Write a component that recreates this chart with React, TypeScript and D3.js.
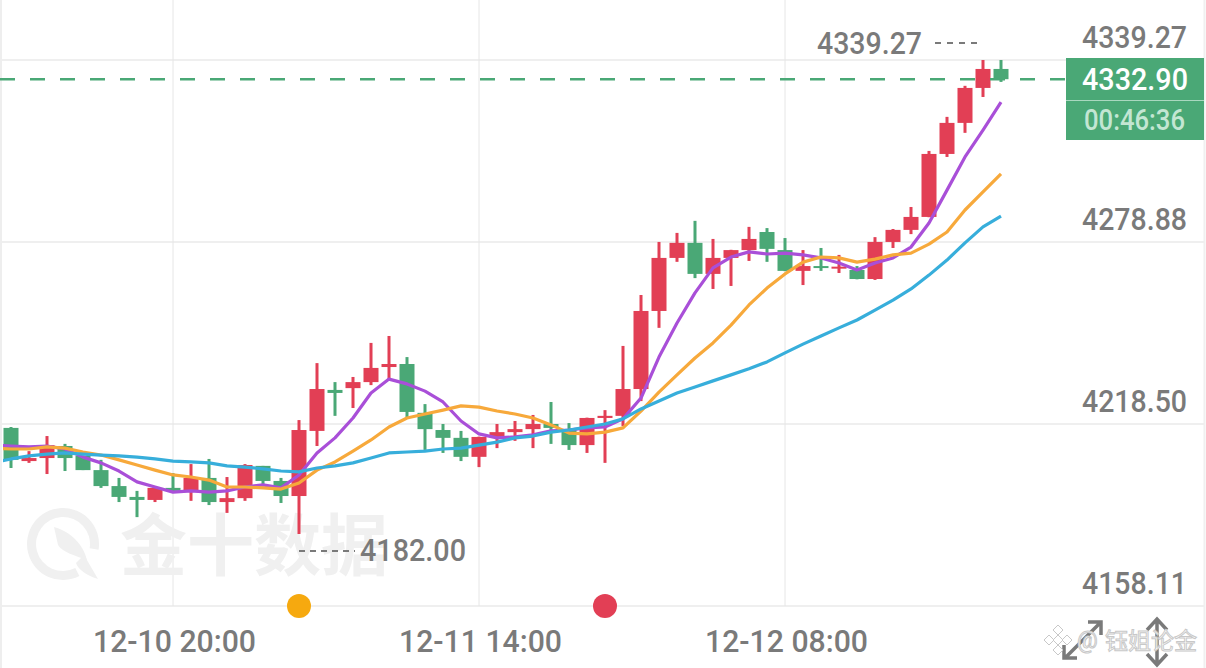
import React from "react";
import * as d3 from "d3";

const WIDTH = 1206;
const HEIGHT = 668;

const RED = "#e23f55";
const GREEN = "#4aa876";
const GREY = "#7a7a7a";

const open = [4217.2,4206.2,4207.2,4211.2,4207.9,4203.2,4197.9,4194.3,4193.3,4197.3,4195.9,4200.6,4192.6,4193.9,4204.6,4199.6,4194.6,4216.2,4229.8,4230.4,4232.4,4237.4,4238.4,4222.2,4216.5,4213.9,4207.6,4214.2,4215.8,4216.8,4218.5,4216.5,4211.5,4220.5,4221.2,4230.1,4256.0,4273.6,4278.6,4268.3,4273.6,4276.2,4282.2,4276.2,4269.3,4270.9,4270.5,4269.6,4266.6,4278.9,4282.9,4287.2,4308.1,4318.4,4330.0,4336.3];
const high = [4217.5,4209.5,4214.5,4211.9,4208.0,4206.6,4200.6,4196.3,4197.4,4202.2,4205.2,4206.9,4200.9,4205.2,4204.6,4200.6,4219.8,4238.7,4232.4,4234.1,4245.4,4247.7,4240.7,4225.1,4218.5,4216.2,4214.3,4218.5,4219.5,4221.5,4225.8,4218.8,4220.6,4223.1,4244.4,4261.3,4278.9,4281.9,4285.9,4279.9,4276.3,4283.9,4283.5,4280.2,4276.2,4276.9,4274.6,4270.9,4280.5,4283.2,4290.5,4309.1,4320.4,4330.7,4339.27,4339.27];
const low = [4203.9,4205.6,4201.9,4202.9,4203.2,4197.3,4192.6,4187.6,4192.6,4196.2,4193.0,4191.6,4189.0,4193.0,4198.3,4192.3,4182.0,4211.2,4221.2,4223.8,4231.4,4233.4,4220.8,4209.9,4208.9,4206.2,4204.2,4210.5,4212.9,4210.5,4211.9,4209.9,4208.9,4205.6,4217.8,4226.1,4250.4,4272.3,4266.9,4263.3,4264.3,4272.6,4272.3,4269.2,4264.6,4269.3,4268.6,4266.5,4266.3,4276.9,4281.5,4287.1,4307.1,4315.1,4327.0,4332.0];
const close = [4206.6,4207.2,4211.5,4207.2,4203.2,4197.9,4194.3,4193.3,4197.3,4196.3,4200.6,4192.6,4193.9,4204.9,4199.6,4194.6,4216.5,4230.1,4228.8,4232.4,4237.1,4238.4,4222.5,4216.8,4213.9,4207.6,4214.2,4215.8,4216.8,4218.5,4217.2,4211.5,4220.5,4221.2,4230.1,4256.0,4273.6,4278.6,4268.3,4273.6,4276.2,4279.9,4276.6,4269.3,4270.9,4270.6,4270.7,4266.6,4278.9,4282.9,4287.2,4308.1,4318.4,4330.0,4336.3,4332.9];

// moving averages, first value belongs to the candle just off the left edge
const ma5 = [4211.5,4211.2,4210.9,4211.2,4210.2,4207.5,4205.6,4202.9,4199.3,4197.6,4195.9,4196.3,4195.9,4196.3,4197.6,4198.3,4197.3,4201.6,4208.9,4213.9,4220.5,4228.8,4233.4,4231.8,4229.4,4225.8,4219.5,4215.2,4213.9,4214.2,4214.9,4216.2,4216.5,4217.2,4217.5,4220.2,4227.1,4240.7,4252.0,4262.0,4270.3,4273.9,4275.6,4274.9,4275.2,4274.6,4273.6,4271.9,4269.6,4271.9,4273.6,4277.2,4285.2,4296.1,4307.1,4316.0,4325.3];
const ma10 = [4210.5,4210.2,4210.2,4210.9,4210.5,4209.2,4208.2,4206.6,4204.9,4203.2,4201.6,4200.9,4199.9,4197.6,4197.6,4197.3,4196.9,4198.9,4203.2,4205.9,4209.5,4213.2,4217.5,4220.5,4221.8,4223.1,4224.5,4224.1,4222.8,4221.8,4220.5,4218.2,4215.5,4215.2,4215.8,4217.2,4222.8,4229.1,4234.8,4240.4,4245.4,4251.3,4258.0,4263.6,4268.3,4272.2,4273.9,4273.6,4272.2,4273.2,4274.6,4275.2,4278.2,4282.2,4289.5,4295.5,4301.5];
const ma20 = [4205.6,4206.9,4207.9,4208.5,4208.9,4208.5,4208.2,4207.9,4207.5,4206.9,4206.2,4205.9,4205.6,4204.6,4204.2,4203.6,4202.9,4202.6,4203.9,4204.6,4205.6,4207.2,4208.9,4209.2,4209.5,4210.2,4210.5,4211.5,4212.5,4213.9,4214.5,4215.8,4216.5,4217.5,4218.5,4220.2,4223.5,4226.1,4228.8,4230.8,4232.8,4234.8,4236.8,4239.1,4242.1,4245.0,4247.7,4250.4,4253.0,4256.3,4259.6,4263.3,4267.9,4272.9,4278.6,4283.9,4287.5];

const yTicks = [4339.27, 4278.88, 4218.5, 4158.11];
const xTickIndex = [9, 26, 43];
const xTickLabels = ["12-10 20:00", "12-11 14:00", "12-12 08:00"];
const eventIndex = [16, 33];
const eventColors = ["#f6a90f", RED];
const lastPrice = 4332.9;
const countdown = "00:46:36";
const highPrice = 4339.27;
const lowPrice = 4182.0;
const lowIndex = 16;

const x = d3.scaleLinear().domain([0, 55]).range([11, 1001]);
const y = d3.scaleLinear().domain([4158.11, 4339.27]).range([606, 60]);

const maLine = d3
  .line<number>()
  .x((_, i) => x(i - 1))
  .y((d) => y(d));

const maSeries = [
  { values: ma5, color: "#a94fd8" },
  { values: ma10, color: "#f7a93b" },
  { values: ma20, color: "#37aedb" },
];

const logoRing = d3.arc()({
  innerRadius: 27,
  outerRadius: 36,
  startAngle: Math.PI * 0.85,
  endAngle: Math.PI * 2.55,
}) as string;

// condensed look of the original font, squeezed to its measured width
const Label = ({ x: lx, y: ly, w, size = 32, fill = GREY, anchor = "start", children }: any) => (
  <text
    x={lx}
    y={ly}
    fontFamily="Roboto"
    fontWeight={500}
    fontSize={size}
    fill={fill}
    textAnchor={anchor}
    textLength={w}
    lengthAdjust="spacingAndGlyphs"
  >
    {children}
  </text>
);

export default function App() {
  return (
    <svg
      width={WIDTH}
      height={HEIGHT}
      viewBox={`0 0 ${WIDTH} ${HEIGHT}`}
      style={{ position: "absolute", left: 0, top: 0, display: "block", background: "#fff" }}
    >
      <defs>
        <clipPath id="plot">
          <rect x={3} y={0} width={1060} height={606} />
        </clipPath>
      </defs>

      {/* frame and grid */}
      <line x1={1} x2={1} y1={0} y2={HEIGHT} stroke="#eeeeee" strokeWidth={2} />
      <line x1={1204.5} x2={1204.5} y1={0} y2={HEIGHT} stroke="#f0f0f0" strokeWidth={2} />
      {yTicks.map((t) => (
        <line key={t} x1={2} x2={1204} y1={y(t)} y2={y(t)} stroke="#efefef" strokeWidth={2} />
      ))}
      {xTickIndex.map((i) => (
        <line key={i} x1={x(i)} x2={x(i)} y1={0} y2={606} stroke="#e6e6e6" strokeWidth={1} />
      ))}

      {/* watermark */}
      <g fill="#f0f0f0">
        <path d={logoRing} transform="translate(63,544)" />
        <path d="M54 527 C72 532 84 546 87 560 C76 556 62 552 58 545 Z" />
        <path d="M84 555 L98 579 C88 576 78 570 76 563 Z" />
        <text x={120} y={570} fontFamily="Noto Sans CJK SC" fontWeight={700} fontSize={67}>
          金十数据
        </text>
      </g>

      {/* candles */}
      {open.map((o, i) => {
        const c = close[i];
        const color = c >= o ? RED : GREEN;
        const top = y(Math.max(o, c));
        const h = Math.max(2, y(Math.min(o, c)) - top);
        return (
          <g key={i} fill={color}>
            <rect x={x(i) - 1.5} width={3} y={y(high[i])} height={y(low[i]) - y(high[i])} />
            <rect x={x(i) - 7.5} width={15} y={top} height={h} />
          </g>
        );
      })}

      {/* moving averages */}
      <g clipPath="url(#plot)" fill="none" strokeWidth={3.2} strokeLinejoin="round">
        {maSeries.map((s) => (
          <path key={s.color} d={maLine(s.values) as string} stroke={s.color} />
        ))}
      </g>

      {/* last price */}
      <line
        x1={0}
        x2={1066}
        y1={y(lastPrice)}
        y2={y(lastPrice)}
        stroke={GREEN}
        strokeWidth={2.5}
        strokeDasharray="15 15"
      />
      <rect x={1066} y={58} width={138} height={82} fill={GREEN} />
      <line x1={1066} x2={1204} y1={100.5} y2={100.5} stroke="#a9d8bf" strokeWidth={1} />
      <Label x={1082} y={90} w={106} fill="#fff">
        {lastPrice.toFixed(2)}
      </Label>
      <Label x={1084} y={130} w={101} size={29} fill="#c3e6d3">
        {countdown}
      </Label>

      {/* high and low markers */}
      <line x1={935} x2={978} y1={43} y2={43} stroke={GREY} strokeWidth={2} strokeDasharray="6 6" />
      <Label x={817} y={54} w={105}>
        {highPrice.toFixed(2)}
      </Label>
      <line
        x1={x(lowIndex)}
        x2={355}
        y1={551}
        y2={551}
        stroke={GREY}
        strokeWidth={2}
        strokeDasharray="6 5"
      />
      <Label x={360} y={561} w={106}>
        {lowPrice.toFixed(2)}
      </Label>

      {/* axis labels */}
      {yTicks.map((t, i) => (
        <Label key={t} x={1082} y={[48, 230, 412, 594][i]} w={105}>
          {t.toFixed(2)}
        </Label>
      ))}
      {xTickIndex.map((i, k) => (
        <Label key={i} x={x(i) + 1.5} y={652} w={163} anchor="middle">
          {xTickLabels[k]}
        </Label>
      ))}

      {/* event dots */}
      {eventIndex.map((i, k) => (
        <circle key={i} cx={x(i)} cy={606} r={12} fill={eventColors[k]} />
      ))}

      {/* resize icons */}
      <g fill="none" stroke={GREY} strokeWidth={3.5}>
        <path d="M1066 657 L1100 623 M1088 622 H1101 V635 M1064 645 V658 H1077" />
        <path d="M1157 620 V664 M1147 630 L1157 619 L1167 630 M1147 654 L1157 665 L1167 654" />
      </g>

      {/* bottom right source mark */}
      <g stroke="#c8c8c8" strokeWidth={1} fill="#fff">
        {[
          [1058, 630],
          [1049, 640],
          [1058, 640],
          [1067, 640],
          [1058, 650],
        ].map(([cx, cy]) => (
          <path key={`${cx}-${cy}`} d={`M${cx} ${cy - 5} L${cx + 5} ${cy} L${cx} ${cy + 5} L${cx - 5} ${cy} Z`} />
        ))}
        <text x={1077} y={648} fontFamily="Roboto" fontSize={23}>
          @
        </text>
        <text x={1105} y={649} fontFamily="Noto Sans CJK SC" fontSize={23}>
          钰姐论金
        </text>
      </g>
    </svg>
  );
}
